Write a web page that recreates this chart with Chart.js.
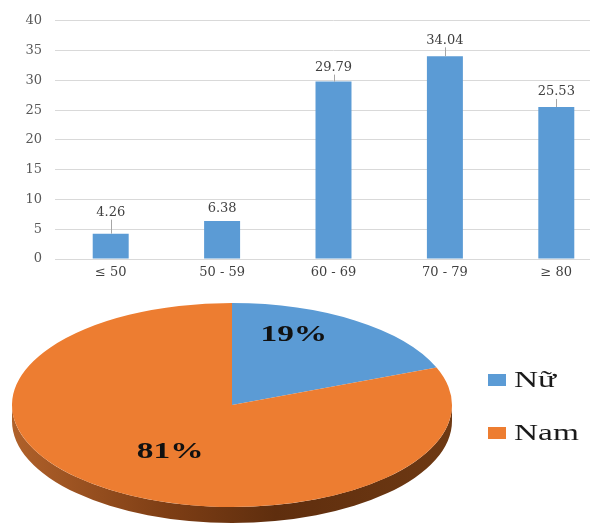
<!DOCTYPE html>
<html>
<head>
<meta charset="utf-8">
<script src="https://cdn.jsdelivr.net/npm/chart.js@4.4.1/dist/chart.umd.min.js"></script>
<style>
  html, body { margin: 0; padding: 0; background: #fff; overflow: hidden; width: 590px; height: 524px; }
  #barBox { position: absolute; left: 0; top: 0; width: 612px; height: 290px; }
  #pieBox { position: absolute; left: 0; top: 0; width: 590px; height: 524px; pointer-events: none; }
</style>
</head>
<body>
<div id="barBox"><canvas id="ageChart"></canvas></div>
<div id="pieBox"><canvas id="sexChart"></canvas></div>
<script>
const ageGroups = ['≤ 50', '50 - 59', '60 - 69', '70 - 79', '≥ 80'];
const agePercents = [4.26, 6.38, 29.79, 34.04, 25.53];
const yMax = 40;
const yStep = 5;

const sexLabels = ['Nữ', 'Nam'];
const sexPercents = [19, 81];

const blue = '#5b9bd5';
const orange = '#ed7d31';

// gap between bar top and its value label (px)
const labelGap = [21, 12, 14, 16, 15];

const barLabels = {
    id: 'barLabels',
    afterDatasetsDraw(chart) {
        const ctx = chart.ctx;
        const meta = chart.getDatasetMeta(0);
        ctx.save();
        ctx.font = '13px "DejaVu Serif"';
        ctx.fillStyle = '#404040';
        ctx.textAlign = 'center';
        ctx.textBaseline = 'middle';
        meta.data.forEach((bar, i) => {
            const gap = labelGap[i];
            const ly = bar.y - gap;
            ctx.fillText(agePercents[i].toFixed(2), bar.x, ly);
            if (gap > 13) {
                ctx.strokeStyle = '#a6a6a6';
                ctx.lineWidth = 1;
                ctx.beginPath();
                ctx.moveTo(Math.round(bar.x) + 0.5, ly + 7);
                ctx.lineTo(Math.round(bar.x) + 0.5, bar.y);
                ctx.stroke();
            }
        });
        ctx.restore();
    }
};

new Chart(document.getElementById('ageChart').getContext('2d'), {
    type: 'bar',
    data: {
        labels: ageGroups,
        datasets: [{
            data: agePercents,
            backgroundColor: blue,
            borderWidth: 0,
            categoryPercentage: 1,
            barPercentage: 0.323,
        }],
    },
    options: {
        responsive: true,
        maintainAspectRatio: false,
        animation: false,
        events: [],
        layout: { padding: { top: 15, left: 0, right: 0, bottom: 0 } },
        plugins: { legend: { display: false }, tooltip: { enabled: false } },
        scales: {
            x: {
                grid: { display: false, drawTicks: false },
                border: { display: true, color: '#d9d9d9' },
                ticks: { color: '#404040', font: { family: 'DejaVu Serif', size: 13 }, padding: 6 },
                afterFit(scale) { scale.height = 31; },
            },
            y: {
                min: 0,
                max: yMax,
                grid: { color: '#d9d9d9', drawTicks: false },
                border: { display: false },
                ticks: { stepSize: yStep, color: '#595959', font: { family: 'DejaVu Serif', size: 13 }, padding: 13 },
                afterFit(scale) { scale.width = 55; },
            },
        },
    },
    plugins: [barLabels],
});

// flatten the pie into a tilted disc
const faceY = 405;
const tilt = 0.4636;
const depth = 16;
const pieLabelShift = [-28, 5];

function mapY(y, cy) { return faceY + (y - cy) * tilt; }

const tiltedPie = {
    id: 'tiltedPie',
    beforeDatasetsDraw(chart) {
        const ctx = chart.ctx;
        const arcs = chart.getDatasetMeta(0).data;
        const cx = arcs[0].x, cy = arcs[0].y, r = arcs[0].outerRadius;
        const ry = r * tilt;
        const grad = ctx.createLinearGradient(cx - r, 0, cx + r, 0);
        grad.addColorStop(0, '#b0612a');
        grad.addColorStop(0.35, '#7e3e15');
        grad.addColorStop(0.6, '#5f2e0e');
        grad.addColorStop(1, '#6e3913');
        arcs.forEach(a => {
            [0, 2 * Math.PI].forEach(base => {
                const lo = Math.max(a.startAngle, base);
                const hi = Math.min(a.endAngle, base + Math.PI);
                if (hi <= lo) return;
                ctx.beginPath();
                ctx.ellipse(cx, faceY + depth, r, ry, 0, lo, hi, false);
                ctx.ellipse(cx, faceY, r, ry, 0, hi, lo, true);
                ctx.closePath();
                ctx.fillStyle = grad;
                ctx.fill();
            });
        });
        ctx.save();
        ctx.translate(0, faceY);
        ctx.scale(1, tilt);
        ctx.translate(0, -cy);
    },
    afterDatasetsDraw(chart) {
        const ctx = chart.ctx;
        ctx.restore();
        const arcs = chart.getDatasetMeta(0).data;
        const cy = arcs[0].y;
        ctx.save();
        ctx.fillStyle = '#111';
        ctx.textAlign = 'center';
        ctx.textBaseline = 'middle';
        ctx.font = 'bold 23px "Liberation Serif"';
        arcs.forEach((a, i) => {
            const p = a.tooltipPosition();
            ctx.save();
            ctx.translate(p.x, mapY(p.y, cy) + pieLabelShift[i]);
            ctx.scale(1.45, 1);
            ctx.fillText(chart.data.datasets[0].data[i] + '%', 0, 0);
            ctx.restore();
        });
        // legend
        ctx.font = '23px "Liberation Serif"';
        ctx.textAlign = 'left';
        chart.data.labels.forEach((lab, i) => {
            const y = 380 + i * 53;
            ctx.fillStyle = chart.data.datasets[0].backgroundColor[i];
            ctx.fillRect(488, y - 6, 18, 12);
            ctx.fillStyle = '#1a1a1a';
            ctx.save();
            ctx.translate(514, y + 1);
            ctx.scale(1.45, 1);
            ctx.fillText(lab, 0, 0);
            ctx.restore();
        });
        ctx.restore();
    }
};

new Chart(document.getElementById('sexChart').getContext('2d'), {
    type: 'pie',
    data: {
        labels: sexLabels,
        datasets: [{
            data: sexPercents,
            backgroundColor: [blue, orange],
            borderWidth: 0,
        }],
    },
    options: {
        responsive: true,
        maintainAspectRatio: false,
        animation: false,
        events: [],
        layout: { padding: { left: 12, right: 138, top: 42, bottom: 42 } },
        plugins: { legend: { display: false }, tooltip: { enabled: false } },
    },
    plugins: [tiltedPie],
});
</script>
</body>
</html>
